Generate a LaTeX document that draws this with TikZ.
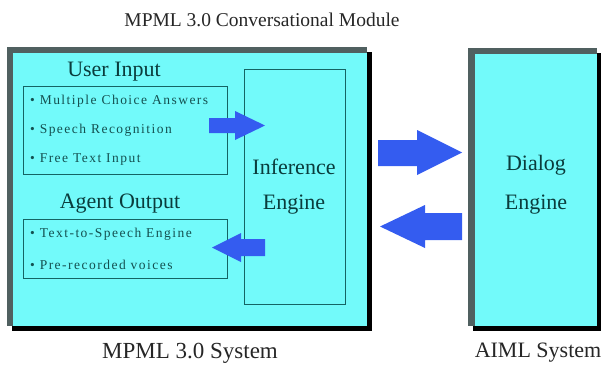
\documentclass[tikz,border=0pt]{standalone}
\usepackage{fontspec}
\setmainfont{Liberation Serif}
\newfontfamily\bulletfont[LetterSpace=11]{Liberation Serif}
\definecolor{boxcyan}{RGB}{114,250,250}
\definecolor{framegray}{RGB}{80,96,96}
\definecolor{arrowblue}{RGB}{52,92,240}
\definecolor{tealline}{RGB}{20,100,100}
\definecolor{tealtext}{RGB}{10,60,60}
\definecolor{bullettext}{RGB}{20,80,80}
\tikzset{
  bigtext/.style={text=tealtext,font=\fontsize{22}{26}\selectfont,inner sep=0pt},
  captext/.style={text=black!85,font=\fontsize{22}{26}\selectfont,inner sep=0pt},
  itemtext/.style={text=bullettext,font=\bulletfont\fontsize{13.5}{16}\selectfont,inner sep=0pt,anchor=west},
  innerbox/.style={draw=tealline,line width=1pt},
  blockarrow/.style={fill=arrowblue,draw=none}
}
\begin{document}
\begin{tikzpicture}[x=1pt,y=-1pt]
\useasboundingbox (0,0) rectangle (601,367);
% main system box
\fill[black] (12,52) rectangle (372,331);
\fill[framegray] (7,47) rectangle (367,326);
\fill[boxcyan] (13,53) rectangle (367,326);
% AIML box
\fill[black] (473,53) rectangle (601,331);
\fill[framegray] (468,48) rectangle (597,326);
\fill[boxcyan] (475,54) rectangle (597,326);
% inner boxes
\draw[innerbox] (23,86) rectangle (227,174);
\draw[innerbox] (23,219) rectangle (227,278);
\draw[innerbox] (244,69) rectangle (345,304);
% texts
\node[captext,font=\fontsize{19.5}{23}\selectfont] (title) at (262,20) {MPML 3.0 Conversational Module};
\node[bigtext] (ui) at (114,72) {User Input};
\node[bigtext] (ao) at (120,204) {Agent Output};
\node[itemtext] (i1) at (30,101) {• Multiple Choice Answers};
\node[itemtext] (i2) at (30,130) {• Speech Recognition};
\node[itemtext] (i3) at (30,160) {• Free Text Input};
\node[itemtext] (i4) at (30,234) {• Text-to-Speech Engine};
\node[itemtext] (i5) at (30,265) {• Pre-recorded voices};
\node[bigtext] (inf1) at (294,167) {Inference};
\node[bigtext] (inf2) at (294,205) {Engine};
\node[bigtext] (dl1) at (536,165) {Dialog};
\node[bigtext] (dl2) at (536,205) {Engine};
\node[captext,font=\fontsize{23}{27}\selectfont] (sys1) at (190,353) {MPML 3.0 System};
\node[captext] (sys2) at (538,353) {AIML System};
% block arrows
\fill[blockarrow] (209,118) -- (235,118) -- (235,111) -- (265,125.5) -- (235,140) -- (235,133) -- (209,133) -- cycle;
\fill[blockarrow] (265,239) -- (241,239) -- (241,233) -- (212,247.5) -- (241,262) -- (241,256) -- (265,256) -- cycle;
\fill[blockarrow] (378,140) -- (417,140) -- (417,130) -- (462,152.5) -- (417,175) -- (417,166) -- (378,166) -- cycle;
\fill[blockarrow] (462,213) -- (425,213) -- (425,205) -- (380,226.5) -- (425,248) -- (425,240) -- (462,240) -- cycle;
\end{tikzpicture}
\end{document}
